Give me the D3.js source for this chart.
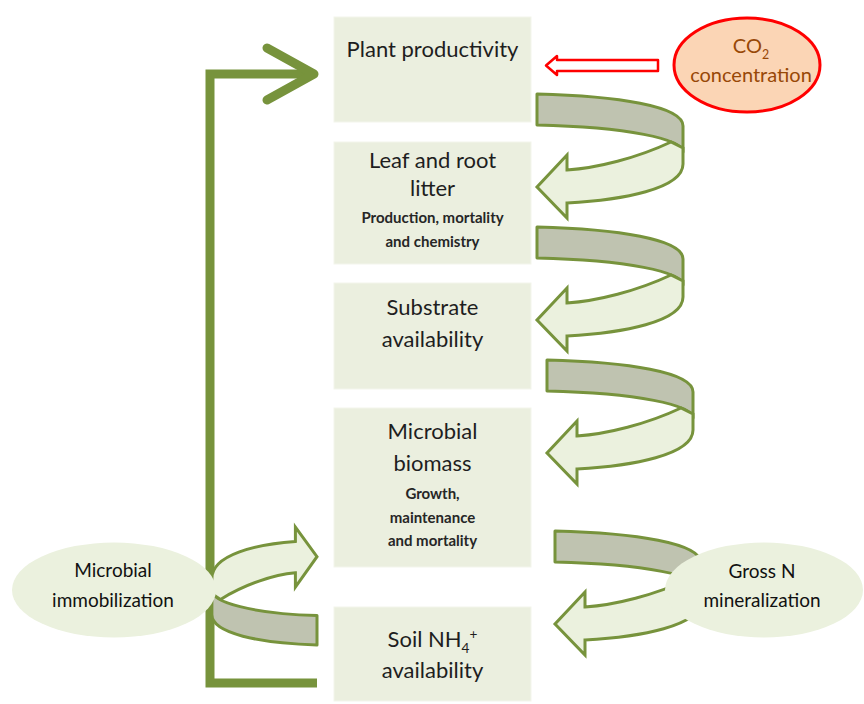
<!DOCTYPE html>
<html>
<head>
<meta charset="utf-8">
<script src="https://cdn.jsdelivr.net/npm/d3@7"></script>
<style>
  body { margin: 0; background: #fff; }
  svg { display: block; }
</style>
</head>
<body>
<div id="chart"></div>
<script>
// box labels of the central column (_{..} subscript, ^{..} superscript)
const boxTitles = [
    ["Plant productivity"],
    ["Leaf and root", "litter"],
    ["Substrate", "availability"],
    ["Microbial", "biomass"],
    ["Soil NH_{4}^{+}", "availability"]
];
const boxNotes = [
    [],
    ["Production, mortality", "and chemistry"],
    [],
    ["Growth,", "maintenance", "and mortality"],
    []
];
const leftNode = ["Microbial", "immobilization"];
const rightNode = ["Gross N", "mineralization"];
const co2Label = ["CO_{2}", "concentration"];

// layout
const W = 864, H = 704;
const boxX0 = 334, boxX1 = 531;
const boxY = [[17, 122], [142, 264], [283, 389], [408, 567], [607, 701]];
const titleBase = [[57], [168, 196], [315, 347], [439, 471], [647, 678]];
const noteBase = [[], [223, 247], [], [499, 523, 546], []];
const spiralAt = [[537, 94], [537, 227], [547, 360], [555, 531]];

const green = '#77933c';
const grayBand = '#bfc3b0';
const lightBand = '#ebf1de';
const boxFill = '#ebefdf';

const svg = d3.select('#chart').append('svg')
    .attr('width', W)
    .attr('height', H);

// split "Soil NH_{4}^{+}" into tspans
function rich(textSel, str, size) {
    const re = /([_^])\{([^}]*)\}|([^_^]+)/g;
    let m, shift = 0;
    while ((m = re.exec(str)) !== null) {
        if (m[3]) {
            textSel.append('tspan').attr('dy', -shift).text(m[3]);
            shift = 0;
        } else {
            const d = m[1] === '_' ? size * 0.28 : -size * 0.38;
            textSel.append('tspan')
                .attr('dy', d - shift)
                .attr('font-size', size * 0.62)
                .text(m[2]);
            shift = d;
        }
    }
}

function lines(g, arr, bases, x, size, opts) {
    arr.forEach((s, i) => {
        const t = g.append('text')
            .attr('x', x)
            .attr('y', bases[i])
            .attr('text-anchor', 'middle')
            .attr('font-family', 'Lato, "Open Sans", sans-serif')
            .attr('font-size', size)
            .attr('font-weight', opts.weight || 'normal')
            .attr('fill', opts.fill || '#1e1e1e');
        rich(t, s, size);
    });
}

// boxes
svg.selectAll('rect.box')
    .data(boxY)
    .enter()
    .append('rect')
    .attr('class', 'box')
    .attr('x', boxX0)
    .attr('y', d => d[0])
    .attr('width', boxX1 - boxX0)
    .attr('height', d => d[1] - d[0])
    .attr('fill', boxFill)
    .attr('stroke', '#f3f5ec')
    .attr('stroke-width', 1);

// feedback bracket on the left
svg.append('path')
    .attr('d', 'M312,74 H210 V683 H317')
    .attr('fill', 'none')
    .attr('stroke', green)
    .attr('stroke-width', 9);
svg.append('path')
    .attr('d', 'M267,48 L314,74 L267,100')
    .attr('fill', 'none')
    .attr('stroke', green)
    .attr('stroke-width', 9)
    .attr('stroke-linecap', 'round')
    .attr('stroke-linejoin', 'round');

// curled arrow shape (local coords, gray band top-left at 0,0)
const grayPath = 'M0,0 C80,2 146,12 146,32 L146,58 C146,45 90,33 0,31 Z';
const lightPath = 'M134,48 C100,64 60,74 30,76 L30,61 L0,93 L30,124 L30,109 C85,106 146,95 146,70 L146,54 Z';

function curl(transform) {
    const g = svg.append('g').attr('transform', transform);
    g.append('path').attr('d', grayPath)
        .attr('fill', grayBand).attr('stroke', green).attr('stroke-width', 3)
        .attr('stroke-linejoin', 'round').attr('vector-effect', 'non-scaling-stroke');
    g.append('path').attr('d', lightPath)
        .attr('fill', lightBand).attr('stroke', green).attr('stroke-width', 3)
        .attr('stroke-linejoin', 'miter').attr('vector-effect', 'non-scaling-stroke');
}

spiralAt.forEach(p => curl(`translate(${p[0]},${p[1]})`));
// immobilization arrow: same shape turned round, pointing right
curl('translate(317,645) scale(-0.72,-0.95)');

// side ellipses
svg.append('ellipse')
    .attr('cx', 114).attr('cy', 590).attr('rx', 102).attr('ry', 47.5)
    .attr('fill', lightBand);
svg.append('ellipse')
    .attr('cx', 764).attr('cy', 590).attr('rx', 99).attr('ry', 47.5)
    .attr('fill', lightBand);

// box texts
const cx = (boxX0 + boxX1) / 2;
boxTitles.forEach((arr, i) => lines(svg, arr, titleBase[i], cx, 22, {}));
boxNotes.forEach((arr, i) => lines(svg, arr, noteBase[i], cx, 15, { weight: 'bold', fill: '#262626' }));

lines(svg, leftNode, [577, 607], 113, 19, { fill: '#111' });
lines(svg, rightNode, [578, 607], 762, 19, { fill: '#111' });

// CO2 input
svg.append('path')
    .attr('d', 'M546,65.5 L557,56 L557,60 L658,60 L658,71 L557,71 L557,75 Z')
    .attr('fill', '#fff')
    .attr('stroke', '#ff0000')
    .attr('stroke-width', 2.5)
    .attr('stroke-linejoin', 'round');
svg.append('ellipse')
    .attr('cx', 747).attr('cy', 65).attr('rx', 73).attr('ry', 47)
    .attr('fill', '#fbd5b5')
    .attr('stroke', '#ff0000')
    .attr('stroke-width', 3);
lines(svg, co2Label, [53, 82], 751, 20, { fill: '#984807' });
</script>
</body>
</html>
